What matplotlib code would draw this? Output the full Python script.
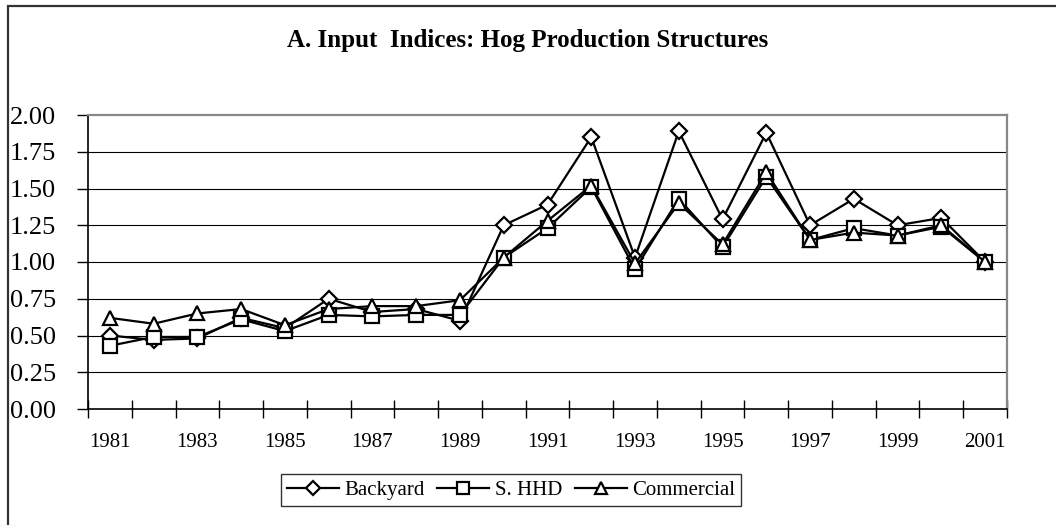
import matplotlib
matplotlib.use("Agg")
import matplotlib.pyplot as plt
from matplotlib.patches import Rectangle
from matplotlib.ticker import FixedLocator, NullFormatter

years = list(range(1981, 2002))
yearLabels = [str(y) if (y - 1981) % 2 == 0 else "" for y in years]

backyard = [0.50, 0.47, 0.48, 0.62, 0.55, 0.75, 0.66, 0.68, 0.60, 1.25, 1.39,
            1.85, 1.03, 1.89, 1.29, 1.88, 1.25, 1.43, 1.25, 1.30, 1.00]
sHHD = [0.43, 0.49, 0.49, 0.61, 0.53, 0.64, 0.63, 0.64, 0.64, 1.03, 1.23,
        1.51, 0.95, 1.43, 1.10, 1.58, 1.15, 1.23, 1.18, 1.24, 1.00]
commercial = [0.62, 0.58, 0.65, 0.68, 0.57, 0.68, 0.70, 0.70, 0.74, 1.03, 1.28,
              1.52, 0.99, 1.40, 1.12, 1.61, 1.15, 1.20, 1.18, 1.25, 1.00]

seriesNames = ["Backyard", "S. HHD", "Commercial"]
yTicks = [0.00, 0.25, 0.50, 0.75, 1.00, 1.25, 1.50, 1.75, 2.00]

plt.rcParams['font.family'] = ['Liberation Serif', 'DejaVu Serif']

W, H = 1056, 525
fig = plt.figure(figsize=(W / 100, H / 100), dpi=100)

# outer frame of the chart area
fig.patches.append(Rectangle((8 / W, -0.1), 1.2, 1 - 6 / H + 0.1, transform=fig.transFigure,
                             fill=False, edgecolor="#333333", linewidth=1.6))

left, right, top, bottom = 88, 1007, 115, 409
ax = fig.add_axes([left / W, 1 - bottom / H, (right - left) / W, (bottom - top) / H])

x = list(range(len(years)))
markerStyle = dict(markerfacecolor="white", markeredgecolor="black", markeredgewidth=1.6,
                   color="black", linewidth=1.6)
ax.plot(x, backyard, marker="D", markersize=8, label=seriesNames[0], **markerStyle)
ax.plot(x, sHHD, marker="s", markersize=9.5, label=seriesNames[1], **markerStyle)
ax.plot(x, commercial, marker="^", markersize=10, label=seriesNames[2], **markerStyle)

ax.set_xlim(-0.5, len(years) - 0.5)
ax.set_ylim(0, 2)

# gridlines
for v in yTicks[1:-1]:
    ax.axhline(v, color="black", linewidth=0.8, zorder=0)

# x axis: tick marks between categories, labels at centers
ax.xaxis.set_major_locator(FixedLocator([i - 0.5 for i in range(len(years) + 1)]))
ax.xaxis.set_major_formatter(NullFormatter())
ax.xaxis.set_minor_locator(FixedLocator(x))
ax.set_xticklabels(yearLabels, minor=True)
ax.tick_params(axis="x", which="major", direction="inout", length=13, width=1, color="black")
ax.tick_params(axis="x", which="minor", length=0, pad=17.5, labelsize=15)

ax.set_yticks(yTicks)
ax.set_yticklabels(["%.2f" % v for v in yTicks])
ax.tick_params(axis="y", direction="out", length=8, width=1, pad=15, labelsize=19)

ax.spines["top"].set_color("#888888")
ax.spines["right"].set_color("#888888")
ax.spines["top"].set_linewidth(1.6)
ax.spines["right"].set_linewidth(1.6)
ax.spines["left"].set_linewidth(1.2)
ax.spines["bottom"].set_linewidth(1.2)

fig.text(528 / W, 1 - 40 / H, "A. Input  Indices: Hog Production Structures",
         ha="center", va="center", fontsize=18, fontweight="bold")

leg = fig.legend(loc="center", bbox_to_anchor=(511 / W, 1 - 490 / H), ncol=3, frameon=True,
                 fancybox=False, edgecolor="black", fontsize=15, handlelength=2.5,
                 handletextpad=0.25, columnspacing=0.6, borderpad=0.3, markerscale=0.85)
leg.get_frame().set_linewidth(1.0)

fig.savefig("out.png", dpi=100)
